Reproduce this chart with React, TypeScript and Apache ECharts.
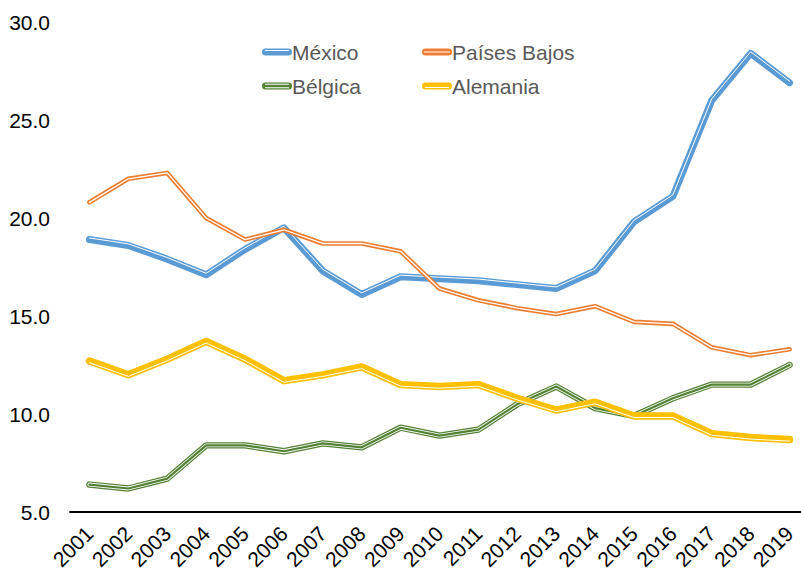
import React, { useEffect, useRef } from "react";
import * as echarts from "echarts";

const years = ["2001","2002","2003","2004","2005","2006","2007","2008","2009","2010","2011","2012","2013","2014","2015","2016","2017","2018","2019"];
const mexico = [18.9, 18.6, 17.9, 17.1, 18.4, 19.5, 17.3, 16.1, 17.0, 16.9, 16.8, 16.6, 16.4, 17.3, 19.8, 21.1, 26.0, 28.4, 26.9];
const paisesBajos = [20.8, 22.0, 22.3, 20.0, 18.9, 19.4, 18.7, 18.7, 18.3, 16.4, 15.8, 15.4, 15.1, 15.5, 14.7, 14.6, 13.4, 13.0, 13.3];
const belgica = [6.4, 6.2, 6.7, 8.4, 8.4, 8.1, 8.5, 8.3, 9.3, 8.9, 9.2, 10.5, 11.4, 10.3, 9.9, 10.8, 11.5, 11.5, 12.5];
const alemania = [12.7, 12.0, 12.8, 13.7, 12.8, 11.7, 12.0, 12.4, 11.5, 11.4, 11.5, 10.8, 10.2, 10.6, 9.9, 9.9, 9.0, 8.8, 8.7];
const yTicks = { min: 5, max: 30, interval: 5 };

const FONT = "'Liberation Sans', Arial, sans-serif";
const COLORS = { mexico: "#5B9BD5", pb: "#ED7D31", bel: "#548235", ale: "#FFC000" };

const OUTER = "M3.5,0H26.5A3.5,3.5,0,0,1,26.5,7H3.5A3.5,3.5,0,0,1,3.5,0Z";
const iconTop = "path://" + OUTER + "M3,1.5V2.6H27V1.5Z";
const iconBottom = "path://" + OUTER + "M3,4.4V5.5H27V4.4Z";
const iconMid = "path://" + OUTER + "M2,2.9V4.1H28V2.9Z";
const iconTriple = "path://" + OUTER + "M3,1.3V2.2H27V1.3ZM3,4.8V5.7H27V4.8Z";

function line(name: string, data: number[], color: string, width: number, gridIdx: number) {
  return {
    type: "line",
    name,
    data,
    xAxisIndex: gridIdx,
    yAxisIndex: gridIdx,
    symbol: "none",
    showSymbol: false,
    silent: true,
    color,
    itemStyle: { color },
    lineStyle: { color, width, cap: "round", join: "round" },
  };
}

export default function App() {
  const ref = useRef<HTMLDivElement>(null);
  useEffect(() => {
    if (!ref.current) return;
    const chart = echarts.init(ref.current, null, { renderer: "svg" });
    const L = 70, R = -8, T = 22, B = 59;
    const grids = [
      { left: L, right: R, top: T, bottom: B, outerBoundsMode: "none", containLabel: false },
      { left: L, right: R, top: T - 1.6, bottom: B + 1.6, outerBoundsMode: "none", containLabel: false },
      { left: L, right: R, top: T + 1.6, bottom: B - 1.6, outerBoundsMode: "none", containLabel: false },
    ];
    const xAxes = grids.map((_, i) => ({
      type: "category",
      data: years,
      gridIndex: i,
      boundaryGap: true,
      show: i === 0,
      axisLine: { show: true, lineStyle: { color: "#000", width: 2 } },
      axisTick: { show: false },
      axisLabel: { rotate: 45, fontSize: 21, color: "#000", fontFamily: FONT, margin: 18, interval: 0 },
      splitLine: { show: false },
    }));
    const yAxes = grids.map((_, i) => ({
      type: "value",
      gridIndex: i,
      min: yTicks.min,
      max: yTicks.max,
      interval: yTicks.interval,
      show: i === 0,
      axisLine: { show: false },
      axisTick: { show: false },
      splitLine: { show: false },
      axisLabel: {
        fontSize: 21, color: "#000", fontFamily: FONT, margin: 20,
        formatter: (v: number) => v.toFixed(1),
      },
    }));
    const legendCommon = {
      orient: "vertical",
      top: 41,
      padding: 0,
      itemWidth: 30,
      itemHeight: 7,
      itemGap: 12,
      selectedMode: false,
      textStyle: { fontSize: 21, color: "#595959", fontFamily: FONT, padding: [0, 0, 0, -5], lineHeight: 22 },
      itemStyle: { borderWidth: 0 },
    };
    chart.setOption({
      animation: false,
      backgroundColor: "#fff",
      grid: grids,
      xAxis: xAxes,
      yAxis: yAxes,
      legend: [
        { ...legendCommon, left: 262, data: [{ name: "México", icon: iconTop }, { name: "Bélgica", icon: iconTriple }] },
        { ...legendCommon, left: 422, data: [{ name: "Países Bajos", icon: iconMid }, { name: "Alemania", icon: iconBottom }] },
      ],
      series: [
        line("México", mexico, COLORS.mexico, 7, 0),
        line("México-gap", mexico, "#fff", 1, 1),
        line("Países Bajos", paisesBajos, COLORS.pb, 4.6, 0),
        line("Países Bajos-gap", paisesBajos, "#fff", 1.3, 0),
        line("Bélgica", belgica, COLORS.bel, 6.4, 0),
        line("Bélgica-gap", belgica, "#fff", 3.9, 0),
        line("Bélgica-core", belgica, COLORS.bel, 2.2, 0),
        line("Alemania", alemania, COLORS.ale, 7.4, 0),
        line("Alemania-gap", alemania, "#fff", 1, 2),
      ],
    });
    return () => chart.dispose();
  }, []);
  return <div ref={ref} style={{ position: "fixed", left: 0, top: 0, width: 801, height: 571 }} />;
}
